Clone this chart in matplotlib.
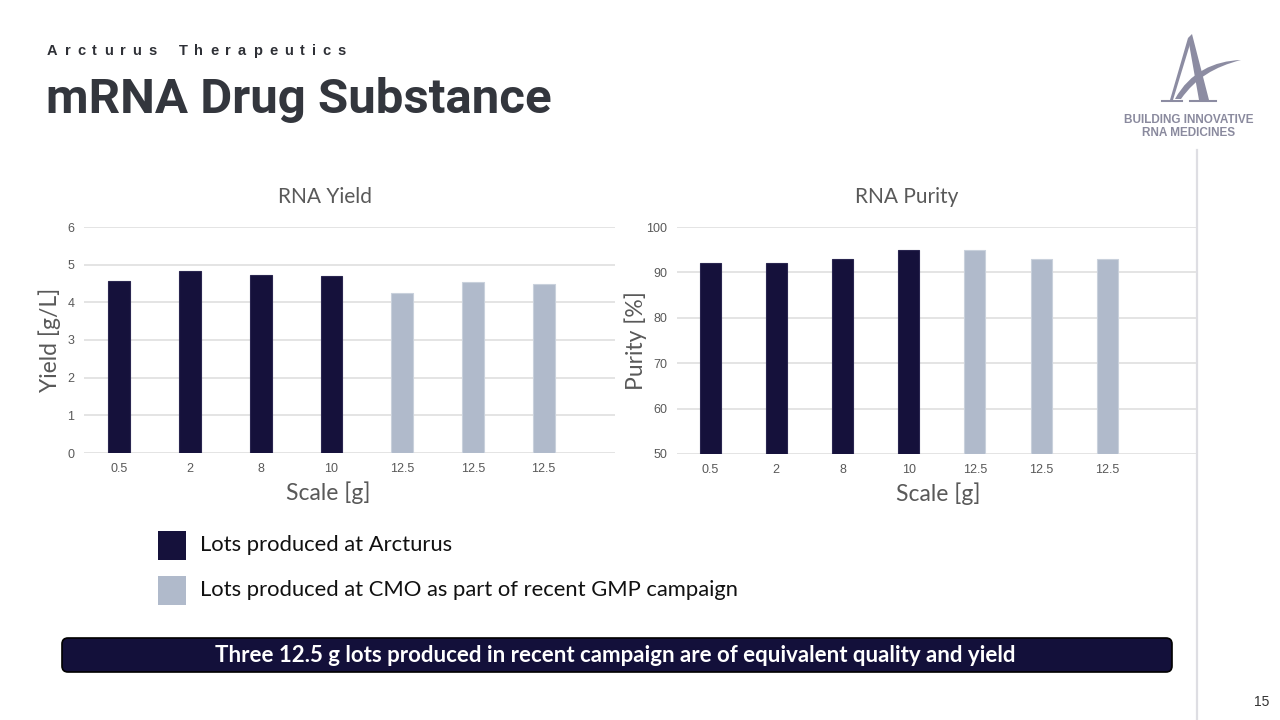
import matplotlib
matplotlib.use("Agg")
import matplotlib.pyplot as plt
from matplotlib.patches import FancyBboxPatch, Polygon, Rectangle, PathPatch
from matplotlib.path import Path

# ---------------- data ----------------
categories = ['0.5', '2', '8', '10', '12.5', '12.5', '12.5']
yield_vals = [4.57, 4.82, 4.73, 4.69, 4.24, 4.53, 4.48]
purity_vals = [92, 92, 93, 95, 95, 93, 93]
sources = ['Arcturus', 'Arcturus', 'Arcturus', 'Arcturus', 'CMO', 'CMO', 'CMO']
yield_ticks = [0, 1, 2, 3, 4, 5, 6]
purity_ticks = [50, 60, 70, 80, 90, 100]
legend_labels = ['Lots produced at Arcturus',
                 'Lots produced at CMO as part of recent GMP campaign']
header_text = 'Arcturus Therapeutics'
title_text = 'mRNA Drug Substance'
banner_text = 'Three 12.5 g lots produced in recent campaign are of equivalent quality and yield'

DARK = '#15113b'
LIGHT = '#b0bacb'
color_map = {'Arcturus': DARK, 'CMO': LIGHT}
GRID = '#e2e2e2'
TICKC = '#595959'
HUM = ['Lato', 'DejaVu Sans']
ARIAL = ['Liberation Sans', 'DejaVu Sans']

W, H = 1280, 720
fig = plt.figure(figsize=(12.8, 7.2), dpi=100)
fig.patch.set_facecolor('white')

# overlay axes in pixel coordinates
ov = fig.add_axes([0, 0, 1, 1])
ov.set_xlim(0, W)
ov.set_ylim(H, 0)
ov.axis('off')


def px_axes(x0, y0, x1, y1):
    return fig.add_axes([x0 / W, (H - y1) / H, (x1 - x0) / W, (y1 - y0) / H])


def draw_chart(ax, vals, ticks, xmax, ylabel, title, ylab_x, title_x, xlab_x, bw):
    xs = list(range(len(categories)))
    cols = [color_map[s] for s in sources]
    edges = ['#2a2650' if s == 'Arcturus' else '#c9d1dc' for s in sources]
    ax.bar(xs, [v - ticks[0] for v in vals], bottom=ticks[0], width=bw,
           color=cols, edgecolor=edges, linewidth=0.8, zorder=3)
    ax.set_xlim(-0.5, xmax)
    ax.set_ylim(ticks[0], ticks[-1])
    ax.set_yticks(ticks)
    ax.set_xticks(xs)
    ax.set_xticklabels(categories)
    ax.set_facecolor('none')
    for s in ax.spines.values():
        s.set_visible(False)
    ax.grid(axis='y', color=GRID, linewidth=1.3, zorder=0)
    ax.set_axisbelow(True)
    ax.tick_params(length=0, colors=TICKC, labelsize=9)
    ax.tick_params(axis='y', pad=7)
    ax.tick_params(axis='x', pad=7)
    for lab in ax.get_xticklabels() + ax.get_yticklabels():
        lab.set_fontfamily(ARIAL)
    ax.set_ylabel(ylabel, fontsize=16.5, color=TICKC, family=HUM)
    ax.yaxis.set_label_coords(ylab_x, 0.5)
    ax.yaxis.label.set_va('center')
    ax.set_xlabel('Scale [g]', fontsize=16.5, color=TICKC, family=HUM)
    ax.xaxis.set_label_coords(xlab_x, -0.177)
    ax.xaxis.label.set_va('center')
    ax.text(title_x, 1.133, title, transform=ax.transAxes, ha='center', va='center',
            fontsize=15, color=TICKC, family=HUM)


ax1 = px_axes(84, 227, 615, 453)
draw_chart(ax1, yield_vals, yield_ticks, 7.01, 'Yield [g/L]', 'RNA Yield',
           (50 - 84) / 531, (325 - 84) / 531, (328 - 84) / 531, 0.31)

ax2 = px_axes(677, 227, 1196, 454)
draw_chart(ax2, purity_vals, purity_ticks, 7.34, 'Purity [%]', 'RNA Purity',
           (636 - 677) / 519, (907 - 677) / 519, (938 - 677) / 519, 0.32)

# ---------------- header (letter-spaced) ----------------
renderer = fig.canvas.get_renderer()
chars = list(header_text)
hdr_kw = dict(fontsize=10.5, fontweight='bold', color='#2e3036', family=ARIAL,
              ha='left', va='baseline')
widths = []
for ch in chars:
    if ch == ' ':
        widths.append(None)
        continue
    t = ov.text(0, 0, ch, **hdr_kw)
    widths.append(t.get_window_extent(renderer).width)
    t.remove()
x_start, x_end = 47, 346
space_w = 8.0
n_gaps = len(chars) - 1
glyph_total = sum(w for w in widths if w is not None) + space_w
track = (x_end - x_start - glyph_total) / n_gaps
x = x_start
for ch, w in zip(chars, widths):
    if ch == ' ':
        x += space_w + track
        continue
    ov.text(x, 55, ch, **hdr_kw)
    x += w + track

ov.text(46, 113, title_text, fontsize=35.5, fontweight='bold',
        color='#33363d', family=['Roboto', 'DejaVu Sans'],
        ha='left', va='baseline')

# ---------------- logo ----------------
LOGO = '#8c8ca2'
ov.add_patch(Polygon([(1188, 38), (1192, 34), (1209, 100), (1199, 100)],
                     closed=True, color=LOGO, lw=0))
ov.add_patch(Polygon([(1188, 38), (1191, 41), (1173, 100), (1170, 100)],
                     closed=True, color=LOGO, lw=0))
ov.plot([1162, 1182], [101, 101], color=LOGO, lw=1.5)
ov.plot([1190, 1216], [101, 101], color=LOGO, lw=1.5)
sw = Path([(1175, 99), (1190, 72), (1214, 61), (1241, 60),
           (1214, 67), (1196, 78), (1181, 99), (1175, 99)],
          [Path.MOVETO, Path.CURVE4, Path.CURVE4, Path.CURVE4,
           Path.CURVE4, Path.CURVE4, Path.CURVE4, Path.CLOSEPOLY])
ov.add_patch(PathPatch(sw, facecolor=LOGO, edgecolor='none'))
ov.text(1189, 120, 'BUILDING INNOVATIVE', fontsize=8.5, fontweight='bold',
        color='#8a8a9e', family=ARIAL, ha='center', va='center')
ov.text(1189, 133, 'RNA MEDICINES', fontsize=8.5, fontweight='bold',
        color='#8a8a9e', family=ARIAL, ha='center', va='center')

# vertical divider
ov.plot([1197, 1197], [150, 720], color='#dedee3', lw=1.6)

# ---------------- legend ----------------
for i, (lab, src) in enumerate(zip(legend_labels, ['Arcturus', 'CMO'])):
    y0 = 531 + i * 45
    ov.add_patch(Rectangle((158, y0), 28, 29, facecolor=color_map[src], edgecolor='none'))
    ov.text(200, y0 + 14, lab, fontsize=15.8, color='#111111', family=HUM,
            ha='left', va='center')

# ---------------- banner ----------------
ov.add_patch(FancyBboxPatch((62, 638), 1110, 34,
                            boxstyle='round,pad=0,rounding_size=6',
                            facecolor='#13103a', edgecolor='#000000', lw=1.2))
ov.text(615, 656, banner_text,
        fontsize=16, fontweight='bold', color='white', family=HUM,
        ha='center', va='center')

ov.text(1262, 702, '15', fontsize=10, color='#333333', family=ARIAL,
        ha='center', va='center')

fig.savefig('out.png', dpi=100, facecolor='white')
